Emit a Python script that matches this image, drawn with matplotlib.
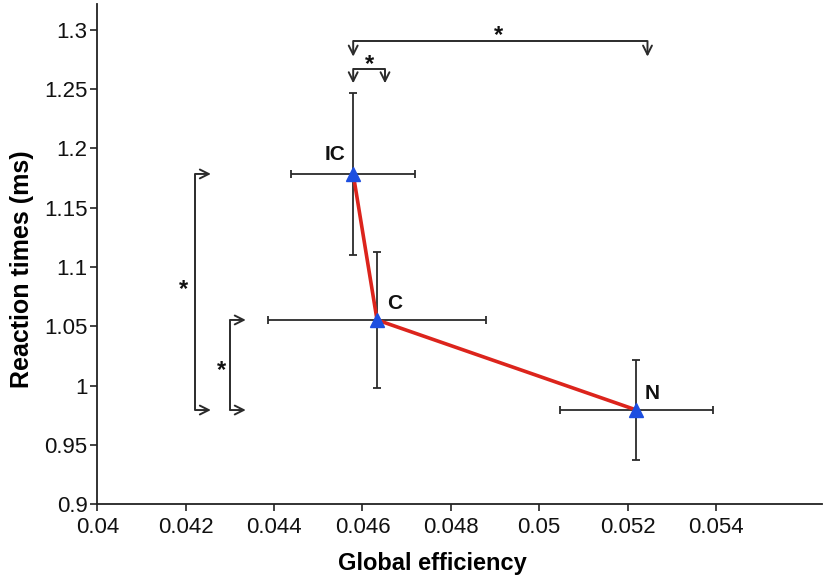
import matplotlib
matplotlib.use("Agg")
import matplotlib.pyplot as plt

# ---- data ----
labels = ["IC", "C", "N"]
global_eff = [0.04579, 0.04633, 0.05220]
reaction_t = [1.1785, 1.0553, 0.9793]
xerr = [0.0014, 0.00247, 0.00174]
yerr = [0.068, 0.057, 0.042]

xticks = [0.04, 0.042, 0.044, 0.046, 0.048, 0.05, 0.052, 0.054]
xticklabels = ["0.04", "0.042", "0.044", "0.046", "0.048", "0.05", "0.052", "0.054"]
yticks = [0.9, 0.95, 1.0, 1.05, 1.1, 1.15, 1.2, 1.25, 1.3]
yticklabels = ["0.9", "0.95", "1", "1.05", "1.1", "1.15", "1.2", "1.25", "1.3"]

plt.rcParams['font.family'] = ['Liberation Sans', 'DejaVu Sans']

fig = plt.figure(figsize=(8.29, 5.81), dpi=100)
ax = fig.add_axes([0.1174, 0.1325, 0.8742, 0.8606])

ax.set_xlim(0.04, 0.0564)
ax.set_ylim(0.9, 1.3219)

# error bars
ax.errorbar(global_eff, reaction_t, xerr=xerr, yerr=yerr, fmt='none',
            ecolor='#2b2b2b', elinewidth=1.3, capsize=3, capthick=1.3, zorder=2)
# red connecting line
ax.plot(global_eff, reaction_t, color='#dc241c', lw=2.6, zorder=3)
# markers
ax.plot(global_eff, reaction_t, linestyle='none', marker='^', markersize=9.5,
        color='#1c4ee0', markeredgecolor='#1c4ee0', zorder=4)

# point labels
offsets = {"IC": (-18, 19), "C": (18, 16), "N": (16, 17)}
for lab, x, y in zip(labels, global_eff, reaction_t):
    ax.annotate(lab, xy=(x, y), xytext=offsets[lab], textcoords='offset pixels',
                ha='center', va='center', fontsize=15, fontweight='bold', color='#111111')

# significance brackets
bcol = '#2b2b2b'
arrow_kw = dict(arrowstyle='->', lw=1.4, color=bcol, shrinkA=0, shrinkB=0, mutation_scale=16)

def top_bracket(x1, x2, ybar, ytip, sx, sy):
    ax.plot([x1, x2], [ybar, ybar], color=bcol, lw=1.4, solid_capstyle='butt')
    for xx in (x1, x2):
        ax.annotate('', xy=(xx, ytip), xytext=(xx, ybar), arrowprops=arrow_kw)
    ax.text(sx, sy, '*', ha='center', va='center', fontsize=17, fontweight='bold', color='#111111')

def left_bracket(xbar, xtip, y1, y2, sx, sy):
    ax.plot([xbar, xbar], [y1, y2], color=bcol, lw=1.4, solid_capstyle='butt')
    for yy in (y1, y2):
        ax.annotate('', xy=(xtip, yy), xytext=(xbar, yy), arrowprops=arrow_kw)
    ax.text(sx, sy, '*', ha='center', va='center', fontsize=17, fontweight='bold', color='#111111')

ic_x, c_x, n_x = global_eff
ic_y, c_y, n_y = reaction_t
top_bracket(ic_x, 0.05245, 1.2907, 1.2775, 0.04907, 1.2950)
top_bracket(ic_x, 0.04651, 1.2671, 1.2550, 0.04615, 1.2707)
left_bracket(0.04221, 0.04257, n_y, ic_y, 0.04196, 1.0810)
left_bracket(0.04300, 0.04336, n_y, c_y, 0.04280, 1.0125)

# axes styling
for s in ('top', 'right'):
    ax.spines[s].set_visible(False)
for s in ('left', 'bottom'):
    ax.spines[s].set_linewidth(1.3)
    ax.spines[s].set_color('#222222')
ax.set_xticks(xticks)
ax.set_xticklabels(xticklabels)
ax.set_yticks(yticks)
ax.set_yticklabels(yticklabels)
ax.tick_params(axis='both', direction='out', length=5, width=1.2, labelsize=16,
               color='#222222', labelcolor='#111111')
ax.tick_params(axis='x', pad=4)
ax.tick_params(axis='y', pad=2)

ax.set_xlabel('Global efficiency', fontsize=17, fontweight='bold', labelpad=12)
ax.xaxis.set_label_coords(0.462, -0.095)
ax.set_ylabel('Reaction times (ms)', fontsize=18, fontweight='bold', labelpad=8)
ax.yaxis.set_label_coords(-0.088, 0.47)

fig.savefig('out.png', dpi=100)
